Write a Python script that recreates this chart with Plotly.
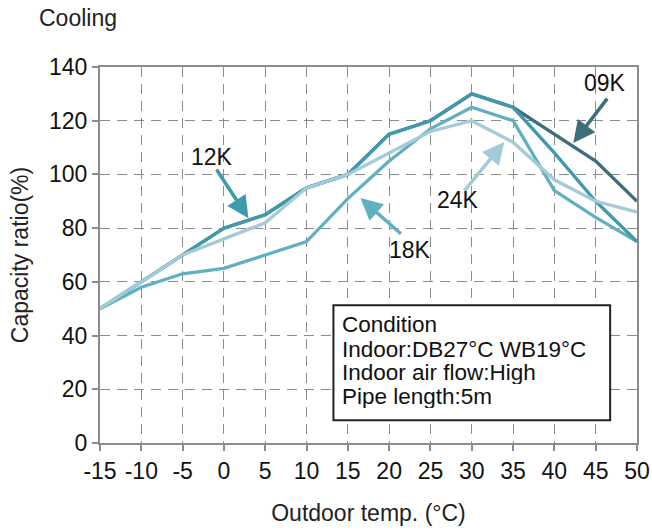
import plotly.graph_objects as go

temps = [-15, -10, -5, 0, 5, 10, 15, 20, 25, 30, 35, 40, 45, 50]
cap_09k = [50, 60, 70, 80, 85, 95, 100, 115, 120, 130, 125, 115, 105, 90]
cap_12k = [50, 60, 70, 80, 85, 95, 100, 115, 120, 130, 125, 108, 90, 75]
cap_18k = [50, 58, 63, 65, 70, 75, 91, 105, 117, 125, 120, 94, 84, 75]
cap_24k = [50, 60, 70, 76, 82, 95, 100, 108, 116, 120, 112, 98, 90, 86]

x_ticks = [-15, -10, -5, 0, 5, 10, 15, 20, 25, 30, 35, 40, 45, 50]
y_ticks = [0, 20, 40, 60, 80, 100, 120, 140]

condition_lines = ["Condition", "Indoor:DB27°C WB19°C", "Indoor air flow:High", "Pipe length:5m"]

c09 = "#3c6f79"
c12 = "#3f9aab"
c18 = "#62afc2"
c24 = "#a6cbd8"

FONT = "Liberation Sans, Arial, sans-serif"
FS = 23

fig = go.Figure()
for name, vals, col in [("09K", cap_09k, c09), ("18K", cap_18k, c18),
                        ("12K", cap_12k, c12), ("24K", cap_24k, c24)]:
    fig.add_trace(go.Scatter(x=temps, y=vals, mode="lines", name=name,
                             line=dict(color=col, width=3.3), showlegend=False))

axis_common = dict(
    showline=True, mirror=True, linecolor="#8c8c8c", linewidth=2,
    ticks="outside", ticklen=6, tickwidth=2, tickcolor="#8c8c8c",
    showgrid=True, gridcolor="#8c8c8c", gridwidth=1.3, griddash="10px,7px",
    zeroline=False, automargin=False, tickfont=dict(family=FONT, size=FS, color="#111"),
)

fig.update_xaxes(range=[-15, 50], tickvals=x_ticks, ticktext=[str(v) for v in x_ticks],
                 title=dict(text="Outdoor temp. (°C)", font=dict(family=FONT, size=FS, color="#222"), standoff=22),
                 **axis_common)
fig.update_yaxes(range=[0, 140], tickvals=y_ticks,
                 title=dict(text="Capacity ratio(%)", font=dict(family=FONT, size=FS, color="#222"), standoff=14),
                 **axis_common)

# Arrows: (head x, head y, tail x, tail y, color)
arrows = [
    (2.97, 83.7, -1.02, 102.4, c12),
    (16.52, 91.2, 21.6, 77.4, c18),
    (33.94, 112.1, 28.98, 93.4, c24),
    (42.29, 111.7, 46.53, 128.8, c09),
]
for hx, hy, tx, ty, col in arrows:
    fig.add_annotation(x=hx, y=hy, ax=tx, ay=ty, xref="x", yref="y", axref="x", ayref="y",
                       text="", showarrow=True, arrowhead=2, arrowsize=1.25, arrowwidth=3.5,
                       arrowcolor=col, standoff=0)

labels = [("12K", -1.39, 106.5), ("18K", 22.57, 71.8), ("24K", 28.38, 90.4), ("09K", 46.17, 134.0)]
for txt, lx, ly in labels:
    fig.add_annotation(x=lx, y=ly, xref="x", yref="y", text=txt, showarrow=False,
                       font=dict(family=FONT, size=FS, color="#111"))

# Condition box
fig.add_shape(type="rect", xref="paper", yref="paper", x0=0.4347, x1=0.950, y0=0.0604, y1=0.3665,
              line=dict(color="#222", width=2), fillcolor="white", layer="above")
cond_y = [44.0, 34.9, 26.1, 17.3]
for line_txt, cy in zip(condition_lines, cond_y):
    fig.add_annotation(xref="x", yref="y", x=14.2, y=cy, xanchor="left", yanchor="middle",
                       align="left", showarrow=False, text=line_txt, height=23, borderpad=0,
                       font=dict(family=FONT, size=22.5, color="#111"))

fig.add_annotation(xref="paper", yref="paper", x=-0.117, y=1.130, xanchor="left", yanchor="middle",
                   text="Cooling", showarrow=False, font=dict(family=FONT, size=FS, color="#222"))

fig.update_layout(
    width=652, height=530,
    margin=dict(l=99.5, r=15.3, t=67, b=87.3),
    paper_bgcolor="white", plot_bgcolor="white",
    font=dict(family=FONT),
)

fig.write_html("out.html", config={"displayModeBar": False},
               post_script="document.body.style.margin='0';")
